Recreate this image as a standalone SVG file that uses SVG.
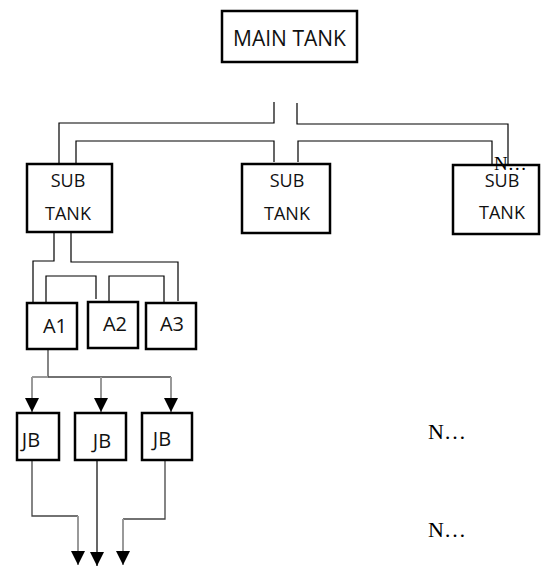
<svg xmlns="http://www.w3.org/2000/svg" width="542" height="567" viewBox="0 0 542 567">
<defs>
<style>
.box{fill:#fff;stroke:#000;stroke-width:2.5}
.lbl{font-family:"Open Sans","Liberation Sans",sans-serif;fill:#111;text-anchor:middle}
.pipe{fill:none;stroke:#000;stroke-width:1.2}
.dg{fill:none;stroke:#444;stroke-width:1.3}
.gr{fill:none;stroke:#999;stroke-width:2}
.nn{font-family:"Liberation Serif","Times New Roman",serif;fill:#000}
</style>
<marker id="arr" viewBox="0 0 14 14" refX="14" refY="7" markerWidth="14" markerHeight="14" markerUnits="userSpaceOnUse" orient="auto">
<path d="M0,0 L14,7 L0,14 z" fill="#000"/>
</marker>
</defs>
<rect width="542" height="567" fill="#fff"/>
<g id="connectors">
<path class="pipe" d="M274,102 V123 H59 V164"/>
<path class="pipe" d="M297,103 V124 H508 V166"/>
<path class="pipe" d="M76,164 V141 H274 V162"/>
<path class="pipe" d="M298,162 V141 H492 V164"/>
<path class="pipe" d="M54,232 V261 H33 V303"/>
<path class="pipe" d="M71,232 V262 H178 V301"/>
<path class="pipe" d="M46,303 V276 H96 V299"/>
<path class="pipe" d="M109,301 V276 H164 V303"/>
<path class="dg" d="M48,349 V377 H171"/>
<path class="gr" d="M48,377 H32"/>
<path class="gr" d="M32,377 V412" marker-end="url(#arr)"/>
<path class="gr" d="M101,377 V412" marker-end="url(#arr)"/>
<path class="gr" d="M171,377 V412" marker-end="url(#arr)"/>
<path class="dg" d="M32,460 V516 H78"/>
<path class="gr" d="M78,516 V565" marker-end="url(#arr)"/>
<path class="pipe" d="M97,458 V566" marker-end="url(#arr)"/>
<path class="dg" d="M165,460 V519 H123"/>
<path class="gr" d="M123,519 V565" marker-end="url(#arr)"/>
</g>
<g id="main-tank">
<rect class="box" x="222" y="11" width="135" height="51"/>
<text class="lbl" x="289.5" y="46" font-size="21">MAIN TANK</text>
</g>
<g id="sub-tank-1">
<rect class="box" x="27" y="164" width="85" height="68"/>
<text class="lbl" x="68" y="187" font-size="18">SUB</text>
<text class="lbl" x="68" y="220" font-size="18">TANK</text>
</g>
<g id="sub-tank-2">
<rect class="box" x="242" y="164" width="88" height="69"/>
<text class="lbl" x="287" y="187" font-size="18">SUB</text>
<text class="lbl" x="287" y="220" font-size="18">TANK</text>
</g>
<g id="sub-tank-3">
<rect class="box" x="453" y="165" width="86" height="69"/>
<text class="lbl" x="502" y="187" font-size="18">SUB</text>
<text class="lbl" x="502" y="219" font-size="18">TANK</text>
</g>
<g id="a1">
<rect class="box" x="27" y="303" width="50" height="46"/>
<text class="lbl" x="55" y="333" font-size="20">A1</text>
</g>
<g id="a2">
<rect class="box" x="88" y="302" width="50" height="46"/>
<text class="lbl" x="115" y="331" font-size="20">A2</text>
</g>
<g id="a3">
<rect class="box" x="146" y="303" width="50" height="46"/>
<text class="lbl" x="172" y="331" font-size="20">A3</text>
</g>
<g id="jb1">
<rect class="box" x="17" y="413" width="42" height="47"/>
<text class="lbl" x="31" y="447" font-size="20">JB</text>
</g>
<g id="jb2">
<rect class="box" x="75" y="413" width="51" height="47"/>
<text class="lbl" x="102" y="448" font-size="20">JB</text>
</g>
<g id="jb3">
<rect class="box" x="142" y="413" width="50" height="47"/>
<text class="lbl" x="162" y="446" font-size="20">JB</text>
</g>
<text class="nn" x="494" y="170" font-size="19">N…</text>
<text class="nn" x="428" y="439" font-size="22">N…</text>
<text class="nn" x="428" y="537" font-size="22">N…</text>
</svg>
